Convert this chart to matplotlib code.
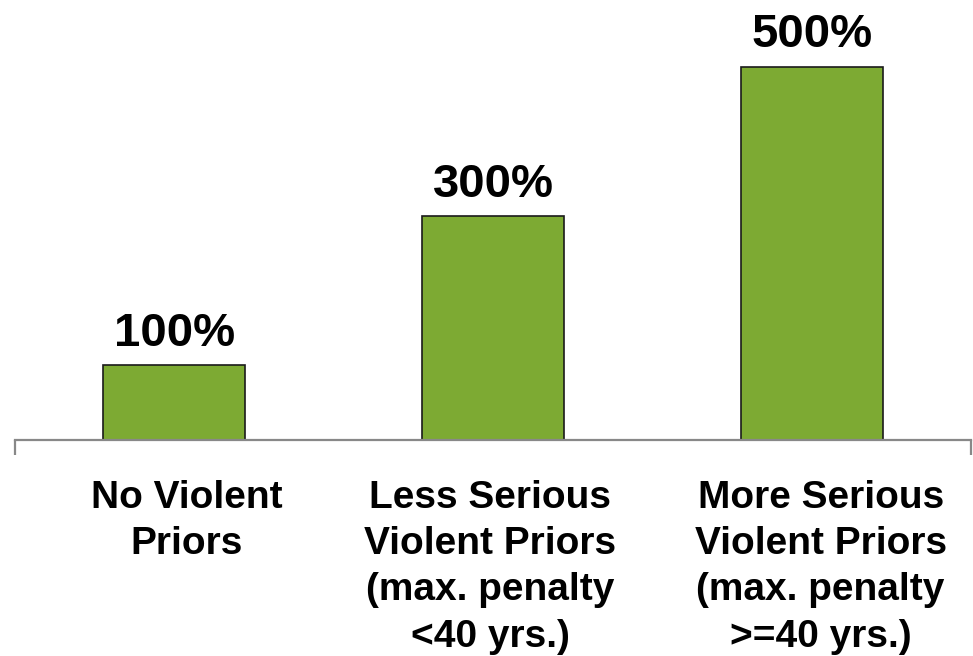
import matplotlib
matplotlib.use("Agg")
import matplotlib.pyplot as plt
import matplotlib.transforms as mtransforms

categories = [
    "No Violent\nPriors",
    "Less Serious\nViolent Priors\n(max. penalty\n<40 yrs.)",
    "More Serious\nViolent Priors\n(max. penalty\n>=40 yrs.)",
]
values = [100, 300, 500]
value_labels = ["100%", "300%", "500%"]

plt.rcParams["font.family"] = ["Liberation Sans", "DejaVu Sans"]

fig = plt.figure(figsize=(9.73, 6.56), dpi=100)
ax = fig.add_axes([15 / 973, 216 / 656, 956 / 973, 440 / 656])

x = list(range(len(categories)))
bars = ax.bar(x, values, width=0.446, color="#7DAA33", edgecolor="#1a1a1a", linewidth=1.2, zorder=2)

# percentage labels above each bar
for rect, lbl in zip(bars, value_labels):
    ax.annotate(lbl, (rect.get_x() + rect.get_width() / 2, rect.get_height()),
                xytext=(0, 7), textcoords="offset points",
                ha="center", va="bottom", fontsize=34, fontweight="bold")

ax.set_xlim(-0.5, 2.5)
ax.set_ylim(0, 590)

for side in ["top", "right", "left"]:
    ax.spines[side].set_visible(False)
ax.spines["bottom"].set_color("#888888")
ax.spines["bottom"].set_linewidth(1.6)
ax.spines["bottom"].set_zorder(3)

ax.set_yticks([])
ax.set_xticks(x)
ax.set_xticklabels(categories, fontsize=28, fontweight="bold", linespacing=1.36)
ax.tick_params(axis="x", which="major", length=0, pad=29)
ax.set_xticks([-0.5, 2.5], minor=True)
ax.tick_params(axis="x", which="minor", length=11, width=1.6, color="#888888", direction="out")

# the text boxes under the bars sit a little off-centre
nudges = [12, -3, 9]
for tick_lbl, dx in zip(ax.get_xticklabels(), nudges):
    tick_lbl.set_transform(tick_lbl.get_transform() +
                           mtransforms.ScaledTranslation(dx / 100, 0, fig.dpi_scale_trans))

fig.savefig("out.png", dpi=100)
